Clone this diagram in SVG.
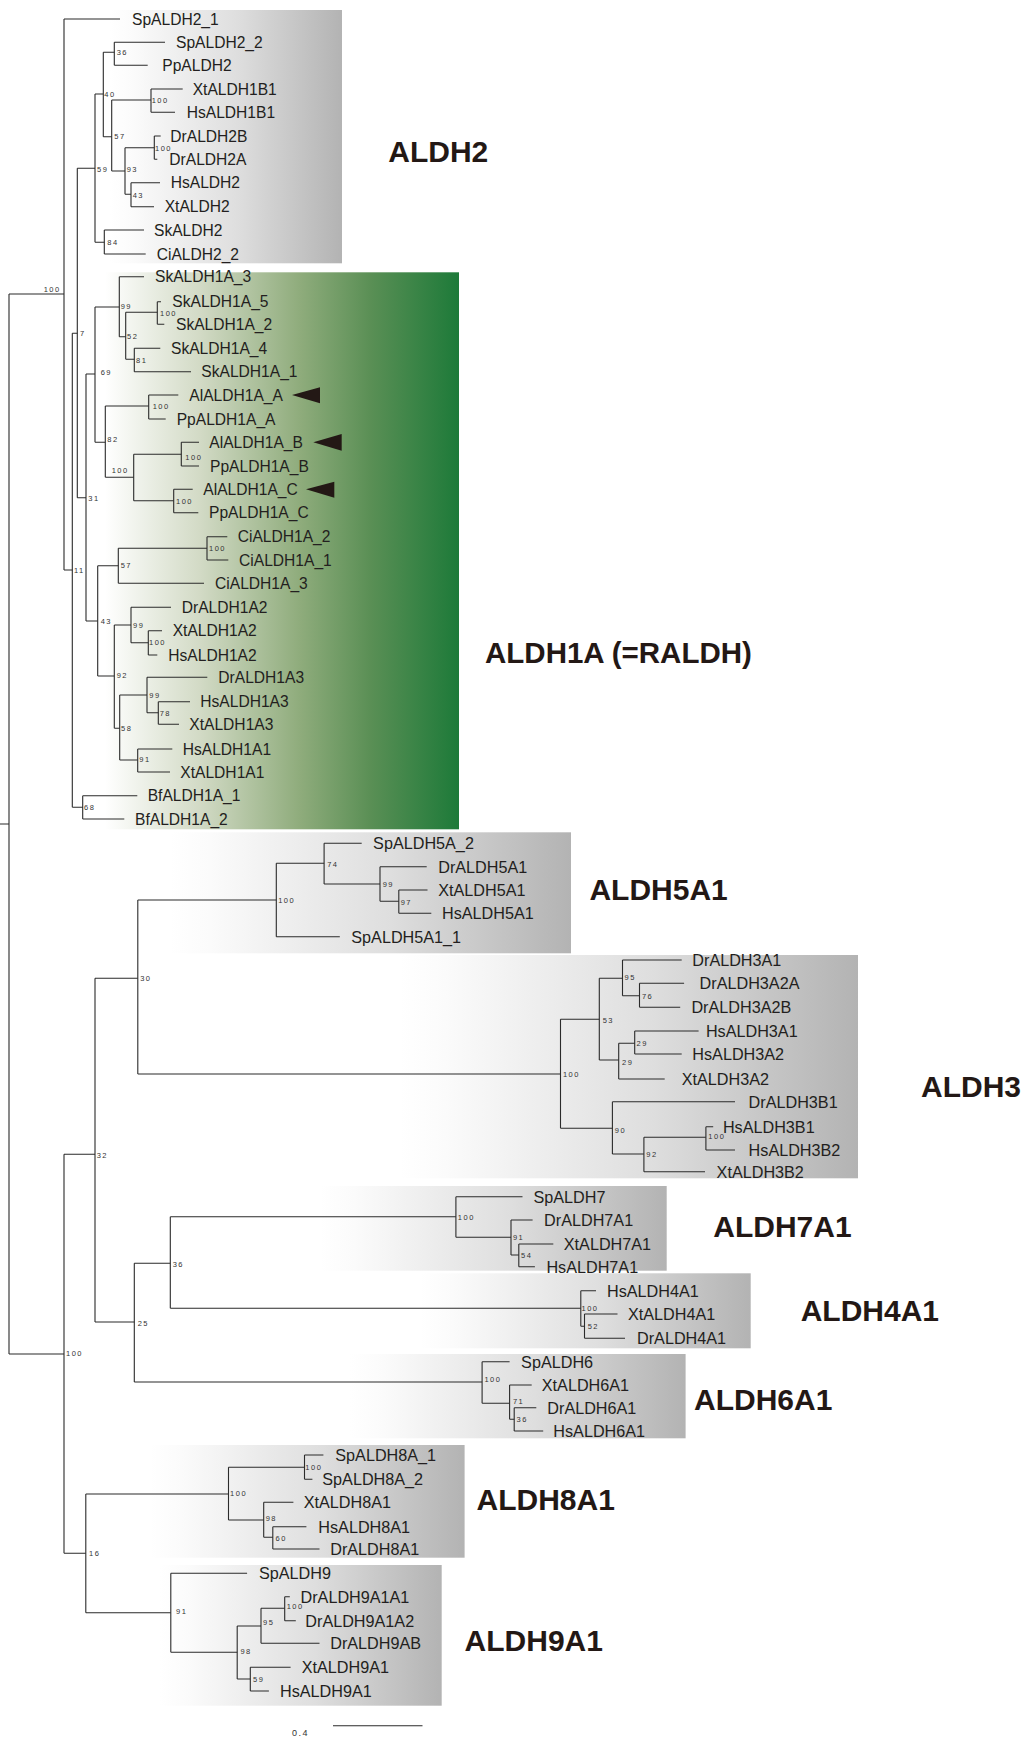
<svg xmlns="http://www.w3.org/2000/svg" width="1024" height="1740" viewBox="0 0 1024 1740">
<defs>
<linearGradient id="gg" x1="0" y1="0" x2="1" y2="0">
<stop offset="0" stop-color="#ffffff"/><stop offset="0.1" stop-color="#fbfbfb"/><stop offset="0.55" stop-color="#dedede"/><stop offset="1" stop-color="#b3b3b3"/>
</linearGradient>
<linearGradient id="gr" x1="0" y1="0" x2="1" y2="0">
<stop offset="0" stop-color="#ffffff"/><stop offset="0.27" stop-color="#d2dac5"/><stop offset="0.55" stop-color="#8fac7c"/><stop offset="0.75" stop-color="#5a8f55"/><stop offset="1" stop-color="#1d7a39"/>
</linearGradient>
<style>
.ln{fill:none;stroke:#2b2b2b;stroke-width:1.1}
.t{font-family:"Liberation Sans",Arial,sans-serif;font-size:15.6px;fill:#231f20}
.t2{font-family:"Liberation Sans",Arial,sans-serif;font-size:16.2px;fill:#231f20}
.b{font-family:"Liberation Sans",Arial,sans-serif;font-size:7.5px;letter-spacing:1.5px;fill:#333}
.c{font-family:"Liberation Sans",Arial,sans-serif;font-weight:bold;font-size:30px;fill:#231815}
.ar{fill:#231815}
</style>
</defs>
<rect width="1024" height="1740" fill="#fff"/>
<g id="clade-boxes">
<rect x="110" y="10" width="232" height="253.3" fill="url(#gg)"/>
<rect x="105" y="272.3" width="354" height="557" fill="url(#gr)"/>
<rect x="170" y="832.3" width="401" height="121" fill="url(#gg)"/>
<rect x="400" y="955" width="458" height="223.3" fill="url(#gg)"/>
<rect x="320" y="1186" width="346.7" height="84.7" fill="url(#gg)"/>
<rect x="420" y="1273.3" width="330.7" height="75" fill="url(#gg)"/>
<rect x="350" y="1354" width="335.6" height="84.3" fill="url(#gg)"/>
<rect x="150" y="1445" width="314.6" height="112.7" fill="url(#gg)"/>
<rect x="160" y="1565" width="281.7" height="140.7" fill="url(#gg)"/>
</g>
<g id="connectors" class="ln">
<path d="M9 294V1354M0 824H9M9 294H64M9 1354H64"/>
<path d="M64 19V570M64 19H120M64 570H72.3"/>
<path d="M72.3 333.3V807.3M72.3 333.3H77.3M72.3 807.3H82.7"/>
<path d="M77.3 168.3V497.7M77.3 168.3H95M77.3 497.7H86"/>
<path d="M95 94V242.3M95 94H103.3M95 242.3H104.3"/>
<path d="M103.3 52.3V136.7M103.3 52.3H114.3M103.3 136.7H111.7"/>
<path d="M114.3 42.3V65.3M114.3 42.3H165M114.3 65.3H147.7"/>
<path d="M111.7 100V171M111.7 100H151M111.7 171H125"/>
<path d="M151 89V112.3M151 89H182.7M151 112.3H175"/>
<path d="M125 147.7V194.3M125 147.7H154.3M125 194.3H131"/>
<path d="M154.3 136V159.3M154.3 136H160.7M154.3 159.3H157.3"/>
<path d="M131 182.7V206.7M131 182.7H160M131 206.7H154"/>
<path d="M104.3 230V254M104.3 230H144M104.3 254H145.7"/>
<path d="M86 374V621M86 374H95M86 621H97.7"/>
<path d="M95 307V442.3M95 307H119.3M95 442.3H105.3"/>
<path d="M119.3 276.7V336.7M119.3 276.7H144M119.3 336.7H125.7"/>
<path d="M125.7 312.3V359.3M125.7 312.3H157.3M125.7 359.3H134.3"/>
<path d="M157.3 301.7V324.3M157.3 301.7H161M157.3 324.3H164.3"/>
<path d="M134.3 348.3V371.7M134.3 348.3H160.3M134.3 371.7H191"/>
<path d="M105.3 406V477.3M105.3 406H148.7M105.3 477.3H133.7"/>
<path d="M148.7 395V419M148.7 395H178.3M148.7 419H165.7"/>
<path d="M133.7 454.3V500.7M133.7 454.3H181.3M133.7 500.7H173.7"/>
<path d="M181.3 442.3V466M181.3 442.3H199M181.3 466H199"/>
<path d="M173.7 489.3V512.7M173.7 489.3H192.7M173.7 512.7H198.3"/>
<path d="M97.7 565.7V676M97.7 565.7H118.3M97.7 676H114.3"/>
<path d="M118.3 548.3V583.3M118.3 548.3H207M118.3 583.3H204"/>
<path d="M207 536.7V560M207 536.7H227.3M207 560H228.3"/>
<path d="M114.3 625V728.3M114.3 625H131M114.3 728.3H119.7"/>
<path d="M131 607.3V642.7M131 607.3H171M131 642.7H148.3"/>
<path d="M148.3 630.7V655M148.3 630.7H162M148.3 655H157.3"/>
<path d="M119.7 695V760M119.7 695H147M119.7 760H137.7"/>
<path d="M147 677.3V712.7M147 677.3H207.3M147 712.7H158.3"/>
<path d="M158.3 701.7V724.3M158.3 701.7H190M158.3 724.3H179"/>
<path d="M137.7 749V772M137.7 749H172.3M137.7 772H170"/>
<path d="M82.7 795.7V819M82.7 795.7H137.3M82.7 819H124.3"/>
<path d="M64 1154.3V1553.3M64 1154.3H95M64 1553.3H85.8"/>
<path d="M95 978.3V1322M95 978.3H137.8M95 1322H134.3"/>
<path d="M137.8 900V1074M137.8 900H276.3M137.8 1074H560.5"/>
<path d="M276.3 863.3V936.7M276.3 863.3H324.1M276.3 936.7H339.8"/>
<path d="M324.1 843.3V884M324.1 843.3H361.7M324.1 884H380"/>
<path d="M380 866.7V901.3M380 866.7H426.7M380 901.3H398.8"/>
<path d="M398.8 890V913.3M398.8 890H427.5M398.8 913.3H431.3"/>
<path d="M560.5 1019.3V1128.3M560.5 1019.3H599.3M560.5 1128.3H612.4"/>
<path d="M599.3 978.3V1060M599.3 978.3H622.5M599.3 1060H618.7"/>
<path d="M622.5 960V995.7M622.5 960H681.7M622.5 995.7H639.5"/>
<path d="M639.5 983.3V1007.3M639.5 983.3H684.1M639.5 1007.3H680.2"/>
<path d="M618.7 1043.3V1079M618.7 1043.3H634.7M618.7 1079H664.7"/>
<path d="M634.7 1031V1054M634.7 1031H698.6M634.7 1054H681.7"/>
<path d="M612.4 1101.7V1154M612.4 1101.7H735M612.4 1154H643.9"/>
<path d="M643.9 1137.3V1171.7M643.9 1137.3H705.9M643.9 1171.7H705"/>
<path d="M705.9 1126.7V1150M705.9 1126.7H713.2M705.9 1150H735"/>
<path d="M134.3 1263.3V1382M134.3 1263.3H170.3M134.3 1382H482.1"/>
<path d="M170.3 1216.7V1308.3M170.3 1216.7H455.9M170.3 1308.3H580.8"/>
<path d="M455.9 1196.7V1237.3M455.9 1196.7H522.5M455.9 1237.3H511"/>
<path d="M511 1220V1255M511 1220H532.6M511 1255H518.8"/>
<path d="M518.8 1244V1266.7M518.8 1244H553.3M518.8 1266.7H534.9"/>
<path d="M580.8 1290.7V1326.3M580.8 1290.7H596M580.8 1326.3H584.5"/>
<path d="M584.5 1314V1338.3M584.5 1314H617.5M584.5 1338.3H625"/>
<path d="M482.1 1361.7V1403.3M482.1 1361.7H509.6M482.1 1403.3H509.6"/>
<path d="M509.6 1385V1419.3M509.6 1385H531.7M509.6 1419.3H514.2"/>
<path d="M514.2 1407.7V1431M514.2 1407.7H536.3M514.2 1431H543.2"/>
<path d="M85.8 1494V1612.7M85.8 1494H228.5M85.8 1612.7H170.8"/>
<path d="M228.5 1467.3V1520M228.5 1467.3H304.5M228.5 1520H263.7"/>
<path d="M304.5 1455V1479.3M304.5 1455H323.4M304.5 1479.3H312.4"/>
<path d="M263.7 1502.3V1537.3M263.7 1502.3H293.4M263.7 1537.3H272.8"/>
<path d="M272.8 1526.7V1549M272.8 1526.7H306.4M272.8 1549H319.5"/>
<path d="M170.8 1573.3V1652.3M170.8 1573.3H247.1M170.8 1652.3H237.2"/>
<path d="M237.2 1626V1679M237.2 1626H261M237.2 1679H250.3"/>
<path d="M261 1608.3V1643.3M261 1608.3H284.7M261 1643.3H319.5"/>
<path d="M284.7 1596.7V1620.7M284.7 1596.7H289.8M284.7 1620.7H295.8"/>
<path d="M250.3 1667.3V1691M250.3 1667.3H290.6M250.3 1691H268.9"/>
</g>
<g id="leaves-top" class="t">
<g id="SpALDH2_1"><text x="132" y="24.6">SpALDH2_1</text></g>
<g id="SpALDH2_2"><text x="176" y="47.9">SpALDH2_2</text></g>
<g id="PpALDH2"><text x="162.3" y="70.9">PpALDH2</text></g>
<g id="XtALDH1B1"><text x="192.7" y="94.6">XtALDH1B1</text></g>
<g id="HsALDH1B1"><text x="186.7" y="117.9">HsALDH1B1</text></g>
<g id="DrALDH2B"><text x="170.3" y="141.6">DrALDH2B</text></g>
<g id="DrALDH2A"><text x="169.3" y="164.9">DrALDH2A</text></g>
<g id="HsALDH2"><text x="170.7" y="188.3">HsALDH2</text></g>
<g id="XtALDH2"><text x="164.7" y="212.3">XtALDH2</text></g>
<g id="SkALDH2"><text x="154" y="235.6">SkALDH2</text></g>
<g id="CiALDH2_2"><text x="156.7" y="259.6">CiALDH2_2</text></g>
<g id="SkALDH1A_3"><text x="155" y="282.3">SkALDH1A_3</text></g>
<g id="SkALDH1A_5"><text x="172.3" y="307.3">SkALDH1A_5</text></g>
<g id="SkALDH1A_2"><text x="176" y="329.9">SkALDH1A_2</text></g>
<g id="SkALDH1A_4"><text x="171" y="353.9">SkALDH1A_4</text></g>
<g id="SkALDH1A_1"><text x="201.3" y="377.3">SkALDH1A_1</text></g>
<g id="AlALDH1A_A"><text x="189.3" y="400.6">AlALDH1A_A</text><polygon class="ar" points="292,395 320,387.3 320,403.3"/></g>
<g id="PpALDH1A_A"><text x="176.7" y="424.6">PpALDH1A_A</text></g>
<g id="AlALDH1A_B"><text x="209.3" y="447.9">AlALDH1A_B</text><polygon class="ar" points="313.3,442.3 341.7,434 341.7,450.7"/></g>
<g id="PpALDH1A_B"><text x="210" y="471.6">PpALDH1A_B</text></g>
<g id="AlALDH1A_C"><text x="203.3" y="494.9">AlALDH1A_C</text><polygon class="ar" points="306,489.3 334.3,481.7 334.3,497.7"/></g>
<g id="PpALDH1A_C"><text x="209" y="518.3">PpALDH1A_C</text></g>
<g id="CiALDH1A_2"><text x="237.7" y="542.3">CiALDH1A_2</text></g>
<g id="CiALDH1A_1"><text x="239" y="565.6">CiALDH1A_1</text></g>
<g id="CiALDH1A_3"><text x="215" y="588.9">CiALDH1A_3</text></g>
<g id="DrALDH1A2"><text x="181.7" y="612.9">DrALDH1A2</text></g>
<g id="XtALDH1A2"><text x="172.7" y="636.3">XtALDH1A2</text></g>
<g id="HsALDH1A2"><text x="168.3" y="660.6">HsALDH1A2</text></g>
<g id="DrALDH1A3"><text x="218.3" y="682.9">DrALDH1A3</text></g>
<g id="HsALDH1A3"><text x="200.3" y="707.3">HsALDH1A3</text></g>
<g id="XtALDH1A3"><text x="189.3" y="729.9">XtALDH1A3</text></g>
<g id="HsALDH1A1"><text x="182.7" y="754.6">HsALDH1A1</text></g>
<g id="XtALDH1A1"><text x="180.3" y="777.6">XtALDH1A1</text></g>
<g id="BfALDH1A_1"><text x="147.7" y="801.3">BfALDH1A_1</text></g>
<g id="BfALDH1A_2"><text x="135" y="824.6">BfALDH1A_2</text></g>
</g>
<g id="leaves-bottom" class="t2">
<g id="SpALDH5A_2"><text x="373.1" y="849.1">SpALDH5A_2</text></g>
<g id="DrALDH5A1"><text x="438.2" y="872.5">DrALDH5A1</text></g>
<g id="XtALDH5A1"><text x="438.2" y="895.8">XtALDH5A1</text></g>
<g id="HsALDH5A1"><text x="442" y="919.1">HsALDH5A1</text></g>
<g id="SpALDH5A1_1"><text x="351.3" y="942.5">SpALDH5A1_1</text></g>
<g id="DrALDH3A1"><text x="692.3" y="965.8">DrALDH3A1</text></g>
<g id="DrALDH3A2A"><text x="699.6" y="989.1">DrALDH3A2A</text></g>
<g id="DrALDH3A2B"><text x="691.4" y="1013.1">DrALDH3A2B</text></g>
<g id="HsALDH3A1"><text x="705.9" y="1036.8">HsALDH3A1</text></g>
<g id="HsALDH3A2"><text x="692.3" y="1059.8">HsALDH3A2</text></g>
<g id="XtALDH3A2"><text x="681.7" y="1084.8">XtALDH3A2</text></g>
<g id="DrALDH3B1"><text x="748.6" y="1107.5">DrALDH3B1</text></g>
<g id="HsALDH3B1"><text x="722.9" y="1132.5">HsALDH3B1</text></g>
<g id="HsALDH3B2"><text x="748.6" y="1155.8">HsALDH3B2</text></g>
<g id="XtALDH3B2"><text x="716.6" y="1177.5">XtALDH3B2</text></g>
<g id="SpALDH7"><text x="533.5" y="1202.5">SpALDH7</text></g>
<g id="DrALDH7A1"><text x="544.1" y="1225.8">DrALDH7A1</text></g>
<g id="XtALDH7A1"><text x="563.8" y="1249.8">XtALDH7A1</text></g>
<g id="HsALDH7A1"><text x="546.4" y="1272.5">HsALDH7A1</text></g>
<g id="HsALDH4A1"><text x="607" y="1296.5">HsALDH4A1</text></g>
<g id="XtALDH4A1"><text x="628" y="1319.8">XtALDH4A1</text></g>
<g id="DrALDH4A1"><text x="637" y="1344.1">DrALDH4A1</text></g>
<g id="SpALDH6"><text x="521.1" y="1367.5">SpALDH6</text></g>
<g id="XtALDH6A1"><text x="541.8" y="1390.8">XtALDH6A1</text></g>
<g id="DrALDH6A1"><text x="547.3" y="1413.5">DrALDH6A1</text></g>
<g id="HsALDH6A1"><text x="553.3" y="1436.8">HsALDH6A1</text></g>
<g id="SpALDH8A_1"><text x="335.3" y="1460.8">SpALDH8A_1</text></g>
<g id="SpALDH8A_2"><text x="322.3" y="1485.1">SpALDH8A_2</text></g>
<g id="XtALDH8A1"><text x="303.7" y="1508.1">XtALDH8A1</text></g>
<g id="HsALDH8A1"><text x="318.3" y="1532.5">HsALDH8A1</text></g>
<g id="DrALDH8A1"><text x="330.2" y="1554.8">DrALDH8A1</text></g>
<g id="SpALDH9"><text x="259" y="1579.1">SpALDH9</text></g>
<g id="DrALDH9A1A1"><text x="300.5" y="1602.5">DrALDH9A1A1</text></g>
<g id="DrALDH9A1A2"><text x="305.3" y="1626.5">DrALDH9A1A2</text></g>
<g id="DrALDH9AB"><text x="330.2" y="1649.1">DrALDH9AB</text></g>
<g id="XtALDH9A1"><text x="301.7" y="1673.1">XtALDH9A1</text></g>
<g id="HsALDH9A1"><text x="280" y="1696.8">HsALDH9A1</text></g>
</g>
<g id="bootstrap" class="b">
<g id="n1"><text x="43.7" y="292">100</text></g>
<g id="n2"><text x="74" y="572.7">11</text></g>
<g id="n3"><text x="80" y="336">7</text></g>
<g id="n4"><text x="97" y="171.7">59</text></g>
<g id="n5"><text x="104.3" y="97.3">40</text></g>
<g id="n6"><text x="116.7" y="55">36</text></g>
<g id="n7"><text x="114.3" y="139">57</text></g>
<g id="n8"><text x="151.7" y="103.3">100</text></g>
<g id="n9"><text x="126.7" y="172.3">93</text></g>
<g id="n10"><text x="155" y="150.7">100</text></g>
<g id="n11"><text x="132.7" y="197.7">43</text></g>
<g id="n12"><text x="107.3" y="245">84</text></g>
<g id="n13"><text x="88.3" y="500.7">31</text></g>
<g id="n14"><text x="100.7" y="375">69</text></g>
<g id="n15"><text x="120.7" y="309">99</text></g>
<g id="n16"><text x="127" y="339">52</text></g>
<g id="n17"><text x="160" y="315.7">100</text></g>
<g id="n18"><text x="136" y="363">81</text></g>
<g id="n19"><text x="107.3" y="442.3">82</text></g>
<g id="n20"><text x="152.7" y="408.7">100</text></g>
<g id="n21"><text x="111.7" y="472.7">100</text></g>
<g id="n22"><text x="185.3" y="460">100</text></g>
<g id="n23"><text x="176" y="503.7">100</text></g>
<g id="n24"><text x="100.7" y="624">43</text></g>
<g id="n25"><text x="120.7" y="568">57</text></g>
<g id="n26"><text x="209" y="550.7">100</text></g>
<g id="n27"><text x="116.7" y="678">92</text></g>
<g id="n28"><text x="133" y="627.7">99</text></g>
<g id="n29"><text x="149" y="644.7">100</text></g>
<g id="n30"><text x="121" y="731">58</text></g>
<g id="n31"><text x="149.3" y="697.7">99</text></g>
<g id="n32"><text x="159.7" y="715.7">78</text></g>
<g id="n33"><text x="139.3" y="762">91</text></g>
<g id="n34"><text x="84" y="809.7">68</text></g>
<g id="n35"><text x="66" y="1356">100</text></g>
<g id="n36"><text x="96.7" y="1157.7">32</text></g>
<g id="n37"><text x="140.2" y="981">30</text></g>
<g id="n38"><text x="278.2" y="902.7">100</text></g>
<g id="n39"><text x="327.2" y="867.3">74</text></g>
<g id="n40"><text x="382.7" y="887">99</text></g>
<g id="n41"><text x="400.7" y="904.7">97</text></g>
<g id="n42"><text x="562.9" y="1076.7">100</text></g>
<g id="n43"><text x="602.7" y="1023.3">53</text></g>
<g id="n44"><text x="624.5" y="980">95</text></g>
<g id="n45"><text x="641.9" y="999">76</text></g>
<g id="n46"><text x="622" y="1065">29</text></g>
<g id="n47"><text x="636.6" y="1045.7">29</text></g>
<g id="n48"><text x="614.8" y="1132.7">90</text></g>
<g id="n49"><text x="646.3" y="1157.3">92</text></g>
<g id="n50"><text x="708.3" y="1139">100</text></g>
<g id="n51"><text x="137.7" y="1325.7">25</text></g>
<g id="n52"><text x="172.7" y="1267">36</text></g>
<g id="n53"><text x="457.8" y="1220">100</text></g>
<g id="n54"><text x="512.9" y="1240">91</text></g>
<g id="n55"><text x="521.1" y="1257.7">54</text></g>
<g id="n56"><text x="581.5" y="1311">100</text></g>
<g id="n57"><text x="587.7" y="1329.3">52</text></g>
<g id="n58"><text x="484.4" y="1382">100</text></g>
<g id="n59"><text x="512.9" y="1404.3">71</text></g>
<g id="n60"><text x="516.5" y="1422">36</text></g>
<g id="n61"><text x="89" y="1556">16</text></g>
<g id="n62"><text x="230.1" y="1495.7">100</text></g>
<g id="n63"><text x="305.3" y="1469.7">100</text></g>
<g id="n64"><text x="265.7" y="1520.7">98</text></g>
<g id="n65"><text x="275.6" y="1540.7">60</text></g>
<g id="n66"><text x="176" y="1613.7">91</text></g>
<g id="n67"><text x="240.4" y="1654.3">98</text></g>
<g id="n68"><text x="263" y="1625.3">95</text></g>
<g id="n69"><text x="286.7" y="1609.3">100</text></g>
<g id="n70"><text x="253.1" y="1681.7">59</text></g>
</g>
<g id="clade-labels" class="c">
<g id="lab-ALDH2"><text x="388.3" y="162.3">ALDH2</text></g>
<g id="lab-ALDH1A"><text x="485" y="663.3" style="font-size:29.5px">ALDH1A (=RALDH)</text></g>
<g id="lab-ALDH5A1"><text x="589.4" y="900">ALDH5A1</text></g>
<g id="lab-ALDH3"><text x="921" y="1097">ALDH3</text></g>
<g id="lab-ALDH7A1"><text x="713.3" y="1236.7">ALDH7A1</text></g>
<g id="lab-ALDH4A1"><text x="800.7" y="1320.7">ALDH4A1</text></g>
<g id="lab-ALDH6A1"><text x="694" y="1410">ALDH6A1</text></g>
<g id="lab-ALDH8A1"><text x="476.5" y="1510">ALDH8A1</text></g>
<g id="lab-ALDH9A1"><text x="464.6" y="1650.7">ALDH9A1</text></g>
</g>
<g id="scale-bar">
<path class="ln" d="M333 1725.7H422.5"/>
<text class="b" x="292" y="1736" style="font-size:9px">0.4</text>
</g>
</svg>
